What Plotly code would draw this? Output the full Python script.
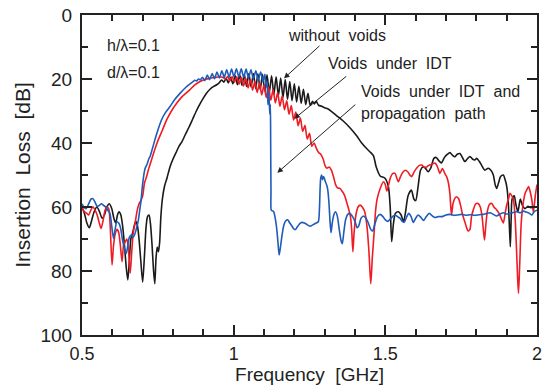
import plotly.graph_objects as go

# ---------------- data (frequency GHz, insertion loss dB) ----------------
without_voids = [
    (0.500, 60.0), (0.508, 62.0), (0.516, 65.0), (0.524, 66.5), (0.531, 64.5), (0.540, 61.5),
    (0.549, 60.0), (0.558, 61.5), (0.566, 63.5), (0.574, 62.5), (0.582, 60.0), (0.590, 59.0),
    (0.598, 60.5), (0.605, 63.5), (0.611, 65.0), (0.617, 62.5), (0.622, 61.5), (0.628, 62.5),
    (0.634, 66.0), (0.640, 72.0), (0.646, 79.0), (0.651, 82.8), (0.656, 77.0), (0.661, 70.0),
    (0.667, 68.0), (0.672, 66.0), (0.677, 64.5), (0.682, 65.5), (0.688, 70.0), (0.694, 77.0),
    (0.700, 83.5), (0.706, 75.0), (0.711, 66.5), (0.716, 63.0), (0.721, 62.5), (0.726, 65.5),
    (0.731, 72.0), (0.736, 80.0), (0.740, 84.0), (0.744, 76.0), (0.748, 72.5), (0.752, 74.0),
    (0.756, 71.0), (0.760, 63.0), (0.765, 57.5), (0.772, 53.5), (0.780, 51.0), (0.790, 47.5),
    (0.800, 45.0), (0.810, 43.0), (0.820, 41.0), (0.830, 39.5), (0.840, 37.5), (0.853, 35.0),
    (0.865, 32.5), (0.877, 30.0), (0.889, 27.8), (0.900, 26.0), (0.911, 24.4), (0.922, 23.2),
    (0.933, 22.4), (0.944, 21.8), (0.952, 21.2),
    (0.960, 20.3), (0.9675, 21.0), (0.975, 19.8), (0.9825, 21.2), (0.990, 19.5), (0.9975, 21.5),
    (1.005, 19.0), (1.0125, 21.8), (1.020, 18.7), (1.0275, 22.0), (1.035, 18.5), (1.0425, 22.3),
    (1.050, 18.3), (1.0575, 22.5), (1.065, 18.3), (1.0725, 23.0), (1.080, 18.4), (1.0875, 23.3),
    (1.095, 18.5), (1.1025, 23.8), (1.110, 18.7), (1.1175, 24.3), (1.125, 19.0), (1.1325, 24.8),
    (1.140, 19.3), (1.1475, 25.3), (1.155, 19.7), (1.1625, 25.8), (1.170, 20.2), (1.1775, 26.3),
    (1.185, 20.8), (1.1925, 26.8), (1.200, 21.5), (1.2075, 27.2), (1.215, 22.3), (1.2225, 27.6),
    (1.230, 23.2), (1.2375, 28.0), (1.245, 24.5), (1.2525, 28.3),
    (1.260, 27.0), (1.266, 27.8), (1.272, 27.0), (1.280, 28.2), (1.290, 28.5), (1.300, 29.0),
    (1.310, 29.3), (1.323, 30.2), (1.340, 31.5), (1.362, 33.2), (1.384, 35.3), (1.406, 37.8),
    (1.422, 40.0), (1.439, 41.8), (1.452, 43.0), (1.461, 44.0), (1.470, 47.5), (1.483, 50.3),
    (1.499, 51.0), (1.510, 53.6), (1.516, 60.0), (1.521, 70.8), (1.527, 65.0), (1.533, 62.0),
    (1.543, 61.5), (1.552, 62.5), (1.560, 64.6), (1.566, 62.0), (1.575, 56.5), (1.586, 54.7),
    (1.594, 57.5), (1.600, 58.0), (1.608, 53.6), (1.616, 48.5), (1.625, 47.4), (1.633, 48.0),
    (1.641, 49.0), (1.650, 47.8), (1.660, 44.8), (1.668, 44.5), (1.676, 45.5), (1.685, 46.2),
    (1.695, 44.5), (1.705, 43.5), (1.713, 43.0), (1.721, 43.8), (1.729, 44.3), (1.737, 43.5),
    (1.746, 43.3), (1.754, 44.5), (1.762, 45.8), (1.770, 45.0), (1.779, 44.2), (1.787, 45.0),
    (1.795, 45.3), (1.801, 44.8), (1.810, 45.8), (1.817, 46.9), (1.828, 48.5), (1.839, 47.9),
    (1.848, 48.5), (1.856, 50.0), (1.862, 53.0), (1.867, 54.2), (1.873, 52.5), (1.880, 50.5),
    (1.889, 50.0), (1.895, 51.5), (1.900, 53.5), (1.905, 58.0), (1.909, 66.0), (1.912, 72.4),
    (1.915, 63.0), (1.918, 57.5), (1.925, 56.5), (1.930, 59.0), (1.937, 61.5), (1.945, 57.5),
    (1.952, 59.5), (1.960, 60.5), (1.970, 59.8), (1.980, 60.2), (1.990, 60.0), (2.000, 60.0),
]

voids_idt = [
    (0.500, 60.0), (0.508, 61.5), (0.516, 62.0), (0.522, 62.5), (0.529, 61.0), (0.536, 59.9),
    (0.543, 61.0), (0.550, 62.5), (0.557, 65.0), (0.563, 66.7), (0.570, 64.0), (0.576, 61.0),
    (0.582, 60.0), (0.588, 60.5), (0.593, 66.0), (0.599, 78.1), (0.604, 72.0), (0.610, 68.2),
    (0.616, 67.0), (0.621, 68.0), (0.626, 71.5), (0.632, 77.1), (0.637, 72.0), (0.643, 70.8),
    (0.648, 70.0), (0.653, 73.0), (0.659, 80.7), (0.664, 74.0), (0.669, 68.0), (0.676, 64.5),
    (0.681, 61.5), (0.688, 59.0), (0.694, 58.0), (0.700, 56.5), (0.706, 52.5), (0.713, 50.5),
    (0.720, 48.0), (0.729, 45.3), (0.740, 42.0), (0.751, 39.1), (0.765, 36.0), (0.779, 32.8),
    (0.795, 30.0), (0.812, 27.6), (0.830, 25.5), (0.855, 23.4), (0.870, 22.0), (0.885, 21.0),
    (0.900, 20.3), (0.920, 19.8), (0.940, 19.5), (0.955, 19.3), (0.965, 19.5),
    (0.9725, 20.0), (0.980, 19.2), (0.9875, 20.6), (0.995, 19.2), (1.0025, 21.0), (1.010, 19.3),
    (1.0175, 21.6), (1.025, 19.5), (1.0325, 22.2), (1.040, 19.8), (1.0475, 22.8), (1.055, 20.2),
    (1.0625, 23.5), (1.070, 20.7), (1.0775, 24.2), (1.085, 21.2), (1.0925, 25.0), (1.100, 21.8),
    (1.1075, 25.8), (1.115, 22.5), (1.1225, 26.6), (1.130, 23.3), (1.1375, 27.5), (1.145, 24.2),
    (1.1525, 28.5), (1.160, 25.3), (1.1675, 29.6), (1.175, 26.8), (1.1825, 31.0), (1.190, 28.3),
    (1.1975, 32.8), (1.205, 30.3), (1.2125, 34.6), (1.220, 32.2), (1.2275, 36.4), (1.235, 34.5),
    (1.2425, 38.8), (1.250, 37.0), (1.2575, 41.0),
    (1.265, 40.0), (1.272, 41.5), (1.280, 43.0), (1.287, 43.5), (1.295, 45.0), (1.301, 47.0),
    (1.307, 47.9), (1.315, 47.5), (1.322, 48.5), (1.329, 50.5), (1.336, 53.0), (1.342, 54.0),
    (1.350, 54.2), (1.357, 55.0), (1.362, 55.7), (1.368, 57.0), (1.374, 59.0), (1.380, 61.0),
    (1.385, 63.0), (1.389, 67.0), (1.393, 74.0), (1.397, 68.0), (1.403, 62.5), (1.410, 60.0),
    (1.417, 59.4), (1.424, 60.0), (1.432, 61.5), (1.440, 66.5), (1.446, 74.0), (1.452, 84.0),
    (1.457, 76.0), (1.463, 68.0), (1.468, 61.0), (1.473, 57.5), (1.483, 54.2), (1.494, 52.1),
    (1.500, 53.0), (1.505, 55.0), (1.511, 53.0), (1.516, 51.0), (1.525, 49.5), (1.532, 49.5),
    (1.538, 51.0), (1.543, 52.1), (1.550, 50.5), (1.559, 49.0), (1.566, 48.5), (1.574, 49.0),
    (1.581, 50.0), (1.587, 50.5), (1.595, 49.0), (1.603, 47.9), (1.612, 47.0), (1.620, 46.9),
    (1.628, 47.5), (1.636, 47.5), (1.643, 47.0), (1.650, 46.8), (1.658, 46.4), (1.665, 46.3),
    (1.672, 47.5), (1.680, 49.5), (1.688, 48.0), (1.696, 49.5), (1.702, 50.5), (1.708, 52.5),
    (1.713, 56.0), (1.718, 62.5), (1.723, 59.0), (1.729, 57.3), (1.735, 56.8), (1.742, 57.5),
    (1.748, 59.5), (1.755, 62.5), (1.762, 64.6), (1.768, 66.5), (1.773, 67.5), (1.779, 67.0),
    (1.784, 63.0), (1.790, 60.9), (1.798, 59.0), (1.806, 58.9), (1.813, 60.0), (1.819, 63.0),
    (1.823, 67.0), (1.827, 70.3), (1.831, 66.0), (1.836, 61.5), (1.843, 59.2), (1.851, 58.9),
    (1.858, 60.0), (1.867, 60.9), (1.875, 62.0), (1.884, 64.0), (1.889, 65.0), (1.895, 62.0),
    (1.900, 59.4), (1.906, 57.5), (1.911, 55.7), (1.917, 56.5), (1.922, 57.5), (1.927, 62.0),
    (1.932, 72.0), (1.936, 82.0), (1.939, 87.0), (1.943, 78.0), (1.948, 65.0), (1.955, 58.5),
    (1.961, 55.7), (1.967, 54.5), (1.972, 53.6), (1.977, 55.0), (1.983, 57.8), (1.988, 61.5),
    (1.995, 56.0), (2.000, 53.0),
]

voids_idt_path = [
    (0.500, 59.0), (0.506, 60.0), (0.514, 60.5), (0.522, 59.0), (0.530, 57.5), (0.536, 57.4),
    (0.543, 58.5), (0.550, 59.8), (0.557, 59.5), (0.564, 59.0), (0.571, 59.5), (0.578, 60.0),
    (0.585, 61.0), (0.592, 62.0), (0.598, 66.0), (0.604, 69.8), (0.610, 66.5), (0.615, 64.6),
    (0.621, 65.0), (0.627, 66.5), (0.633, 70.0), (0.640, 73.0), (0.646, 74.5), (0.651, 72.0),
    (0.656, 69.5), (0.662, 68.8), (0.668, 69.5), (0.674, 68.5), (0.680, 66.5), (0.686, 64.0),
    (0.691, 60.5), (0.695, 57.8), (0.698, 54.5), (0.703, 50.5), (0.708, 48.0), (0.715, 46.5),
    (0.720, 45.0), (0.724, 44.3), (0.732, 41.8), (0.740, 39.1), (0.750, 36.0), (0.762, 32.8),
    (0.775, 30.5), (0.790, 28.6), (0.805, 26.5), (0.823, 24.5), (0.840, 22.8), (0.855, 21.6),
    (0.865, 20.9), (0.872, 20.4), (0.878, 20.6), (0.884, 20.0), (0.890, 20.3),
    (0.897, 19.5), (0.905, 20.5), (0.913, 18.8), (0.921, 20.2), (0.929, 18.3), (0.937, 19.9),
    (0.945, 17.8), (0.953, 19.7), (0.961, 17.4), (0.969, 19.5), (0.977, 17.1), (0.985, 19.4),
    (0.993, 16.9), (1.001, 19.3), (1.009, 16.8), (1.017, 19.3), (1.025, 16.8), (1.033, 19.5),
    (1.041, 16.9), (1.049, 19.7), (1.057, 17.1), (1.065, 20.0), (1.073, 17.4), (1.081, 20.4),
    (1.089, 17.8), (1.097, 20.8), (1.103, 18.5), (1.107, 22.5), (1.110, 21.0), (1.113, 28.0),
    (1.116, 24.0), (1.119, 31.0), (1.121, 28.0), (1.122, 40.0), (1.123, 55.0), (1.124, 61.0),
    (1.128, 61.2), (1.132, 61.5), (1.136, 63.0), (1.141, 66.0), (1.146, 71.0), (1.150, 75.0),
    (1.155, 72.0), (1.160, 68.5), (1.166, 65.5), (1.172, 64.3), (1.178, 64.0), (1.185, 65.0),
    (1.191, 65.8), (1.198, 66.8), (1.204, 67.0), (1.210, 66.2), (1.218, 65.2), (1.225, 64.8),
    (1.233, 65.0), (1.242, 65.5), (1.252, 66.0), (1.262, 65.5), (1.272, 65.0), (1.279, 64.6),
    (1.283, 60.0), (1.285, 54.0), (1.287, 51.0), (1.290, 50.0), (1.293, 51.5), (1.296, 50.5),
    (1.299, 51.0), (1.302, 52.0), (1.306, 53.0), (1.310, 54.5), (1.314, 58.5), (1.318, 65.0),
    (1.321, 68.0), (1.325, 65.0), (1.330, 62.5), (1.336, 61.5), (1.342, 63.0), (1.348, 67.0),
    (1.354, 70.5), (1.358, 71.5), (1.363, 68.0), (1.369, 64.0), (1.376, 62.3), (1.384, 62.0),
    (1.392, 63.0), (1.400, 64.5), (1.407, 66.5), (1.412, 66.0), (1.420, 63.5), (1.428, 62.8),
    (1.436, 63.5), (1.444, 65.0), (1.452, 67.0), (1.458, 67.5), (1.465, 65.5), (1.474, 63.0),
    (1.483, 62.3), (1.492, 63.0), (1.500, 64.0), (1.508, 64.5), (1.516, 63.8), (1.524, 63.0),
    (1.532, 62.5), (1.540, 63.0), (1.548, 63.5), (1.556, 64.5), (1.562, 64.8), (1.570, 63.2),
    (1.577, 62.0), (1.585, 63.0), (1.592, 64.8), (1.600, 63.5), (1.608, 62.5), (1.617, 63.2),
    (1.626, 64.2), (1.635, 63.0), (1.645, 62.0), (1.655, 62.8), (1.664, 63.3), (1.675, 63.0),
    (1.687, 63.0), (1.700, 62.5), (1.712, 62.3), (1.725, 62.6), (1.738, 62.5), (1.751, 62.3),
    (1.765, 62.6), (1.780, 62.4), (1.795, 62.6), (1.810, 62.4), (1.823, 62.3), (1.835, 62.0),
    (1.845, 61.8), (1.856, 62.3), (1.867, 62.8), (1.878, 62.2), (1.889, 61.8), (1.900, 62.2),
    (1.911, 62.0), (1.922, 61.7), (1.933, 61.5), (1.945, 61.8), (1.955, 61.3), (1.965, 61.6),
    (1.975, 62.0), (1.983, 62.5), (1.990, 61.5), (2.000, 61.0),
]

series_colors = ["#1a1a1a", "#ee1c24", "#1f5bb8"]

x_range = [0.5, 2.0]
y_range = [100, 0]

labels = [
    ("h/\u03bb=0.1", 0.576, 9.4),
    ("d/\u03bb=0.1", 0.576, 18.0),
    ("without\u00a0 voids", 1.172, 6.3),
    ("Voids\u00a0 under\u00a0 IDT", 1.304, 15.1),
    ("Voids\u00a0 under\u00a0 IDT\u00a0 and", 1.414, 24.0),
    ("propagation\u00a0 path", 1.414, 30.7),
]

# arrows: (tip_f, tip_il, tail_f, tail_il)
arrows = [
    (1.166, 19.8, 1.288, 9.2),
    (1.200, 32.4, 1.376, 18.8),
    (1.144, 49.3, 1.406, 27.6),
]

FONT = "Liberation Sans, Arial, sans-serif"
INK = "#222222"

fig = go.Figure()
for data, color in zip([without_voids, voids_idt, voids_idt_path], series_colors):
    f, il = zip(*data)
    fig.add_trace(go.Scatter(
        x=list(f), y=list(il), mode="lines",
        line=dict(color=color, width=1.6, shape="spline", smoothing=0.7),
        hoverinfo="skip", showlegend=False,
    ))

for text, xf, yv in labels:
    fig.add_annotation(x=xf, y=yv, xref="x", yref="y", text=text, showarrow=False,
                       xanchor="left", yanchor="middle",
                       font=dict(family=FONT, size=16, color=INK))

for tf, ti, af, ai in arrows:
    fig.add_annotation(x=tf, y=ti, ax=af, ay=ai, xref="x", yref="y", axref="x", ayref="y",
                       text="", showarrow=True, arrowhead=2, arrowsize=1.1,
                       arrowwidth=1, arrowcolor=INK, standoff=0)

axis_common = dict(
    showline=True, linecolor=INK, linewidth=2, mirror="ticks",
    ticks="inside", ticklen=10, tickwidth=1.5, tickcolor=INK,
    showgrid=False, zeroline=False,
)

fig.update_xaxes(
    range=x_range, tickmode="linear", tick0=0.5, dtick=0.5,
    minor=dict(tick0=0.5, dtick=0.1, ticks="inside", ticklen=6, tickwidth=1.5,
               tickcolor=INK, showgrid=False),
    tickfont=dict(family=FONT, size=18, color=INK),
    title=dict(text="Frequency\u00a0 [GHz]", font=dict(family=FONT, size=19, color=INK),
               standoff=0),
    ticklabelstandoff=1,
    **axis_common,
)
fig.update_yaxes(
    range=y_range, tickmode="linear", tick0=0, dtick=20,
    minor=dict(tick0=0, dtick=10, ticks="inside", ticklen=6, tickwidth=1.5,
               tickcolor=INK, showgrid=False),
    tickfont=dict(family=FONT, size=19, color=INK),
    title=dict(text="Insertion\u00a0 Loss\u00a0 [dB]", font=dict(family=FONT, size=21, color=INK),
               standoff=4),
    ticklabelstandoff=4,
    **axis_common,
)

fig.update_layout(
    width=546, height=387,
    margin=dict(l=82, r=9, t=15, b=52, autoexpand=False),
    paper_bgcolor="white", plot_bgcolor="white",
    font=dict(family=FONT, color=INK),
)

fig.write_html("out.html")
